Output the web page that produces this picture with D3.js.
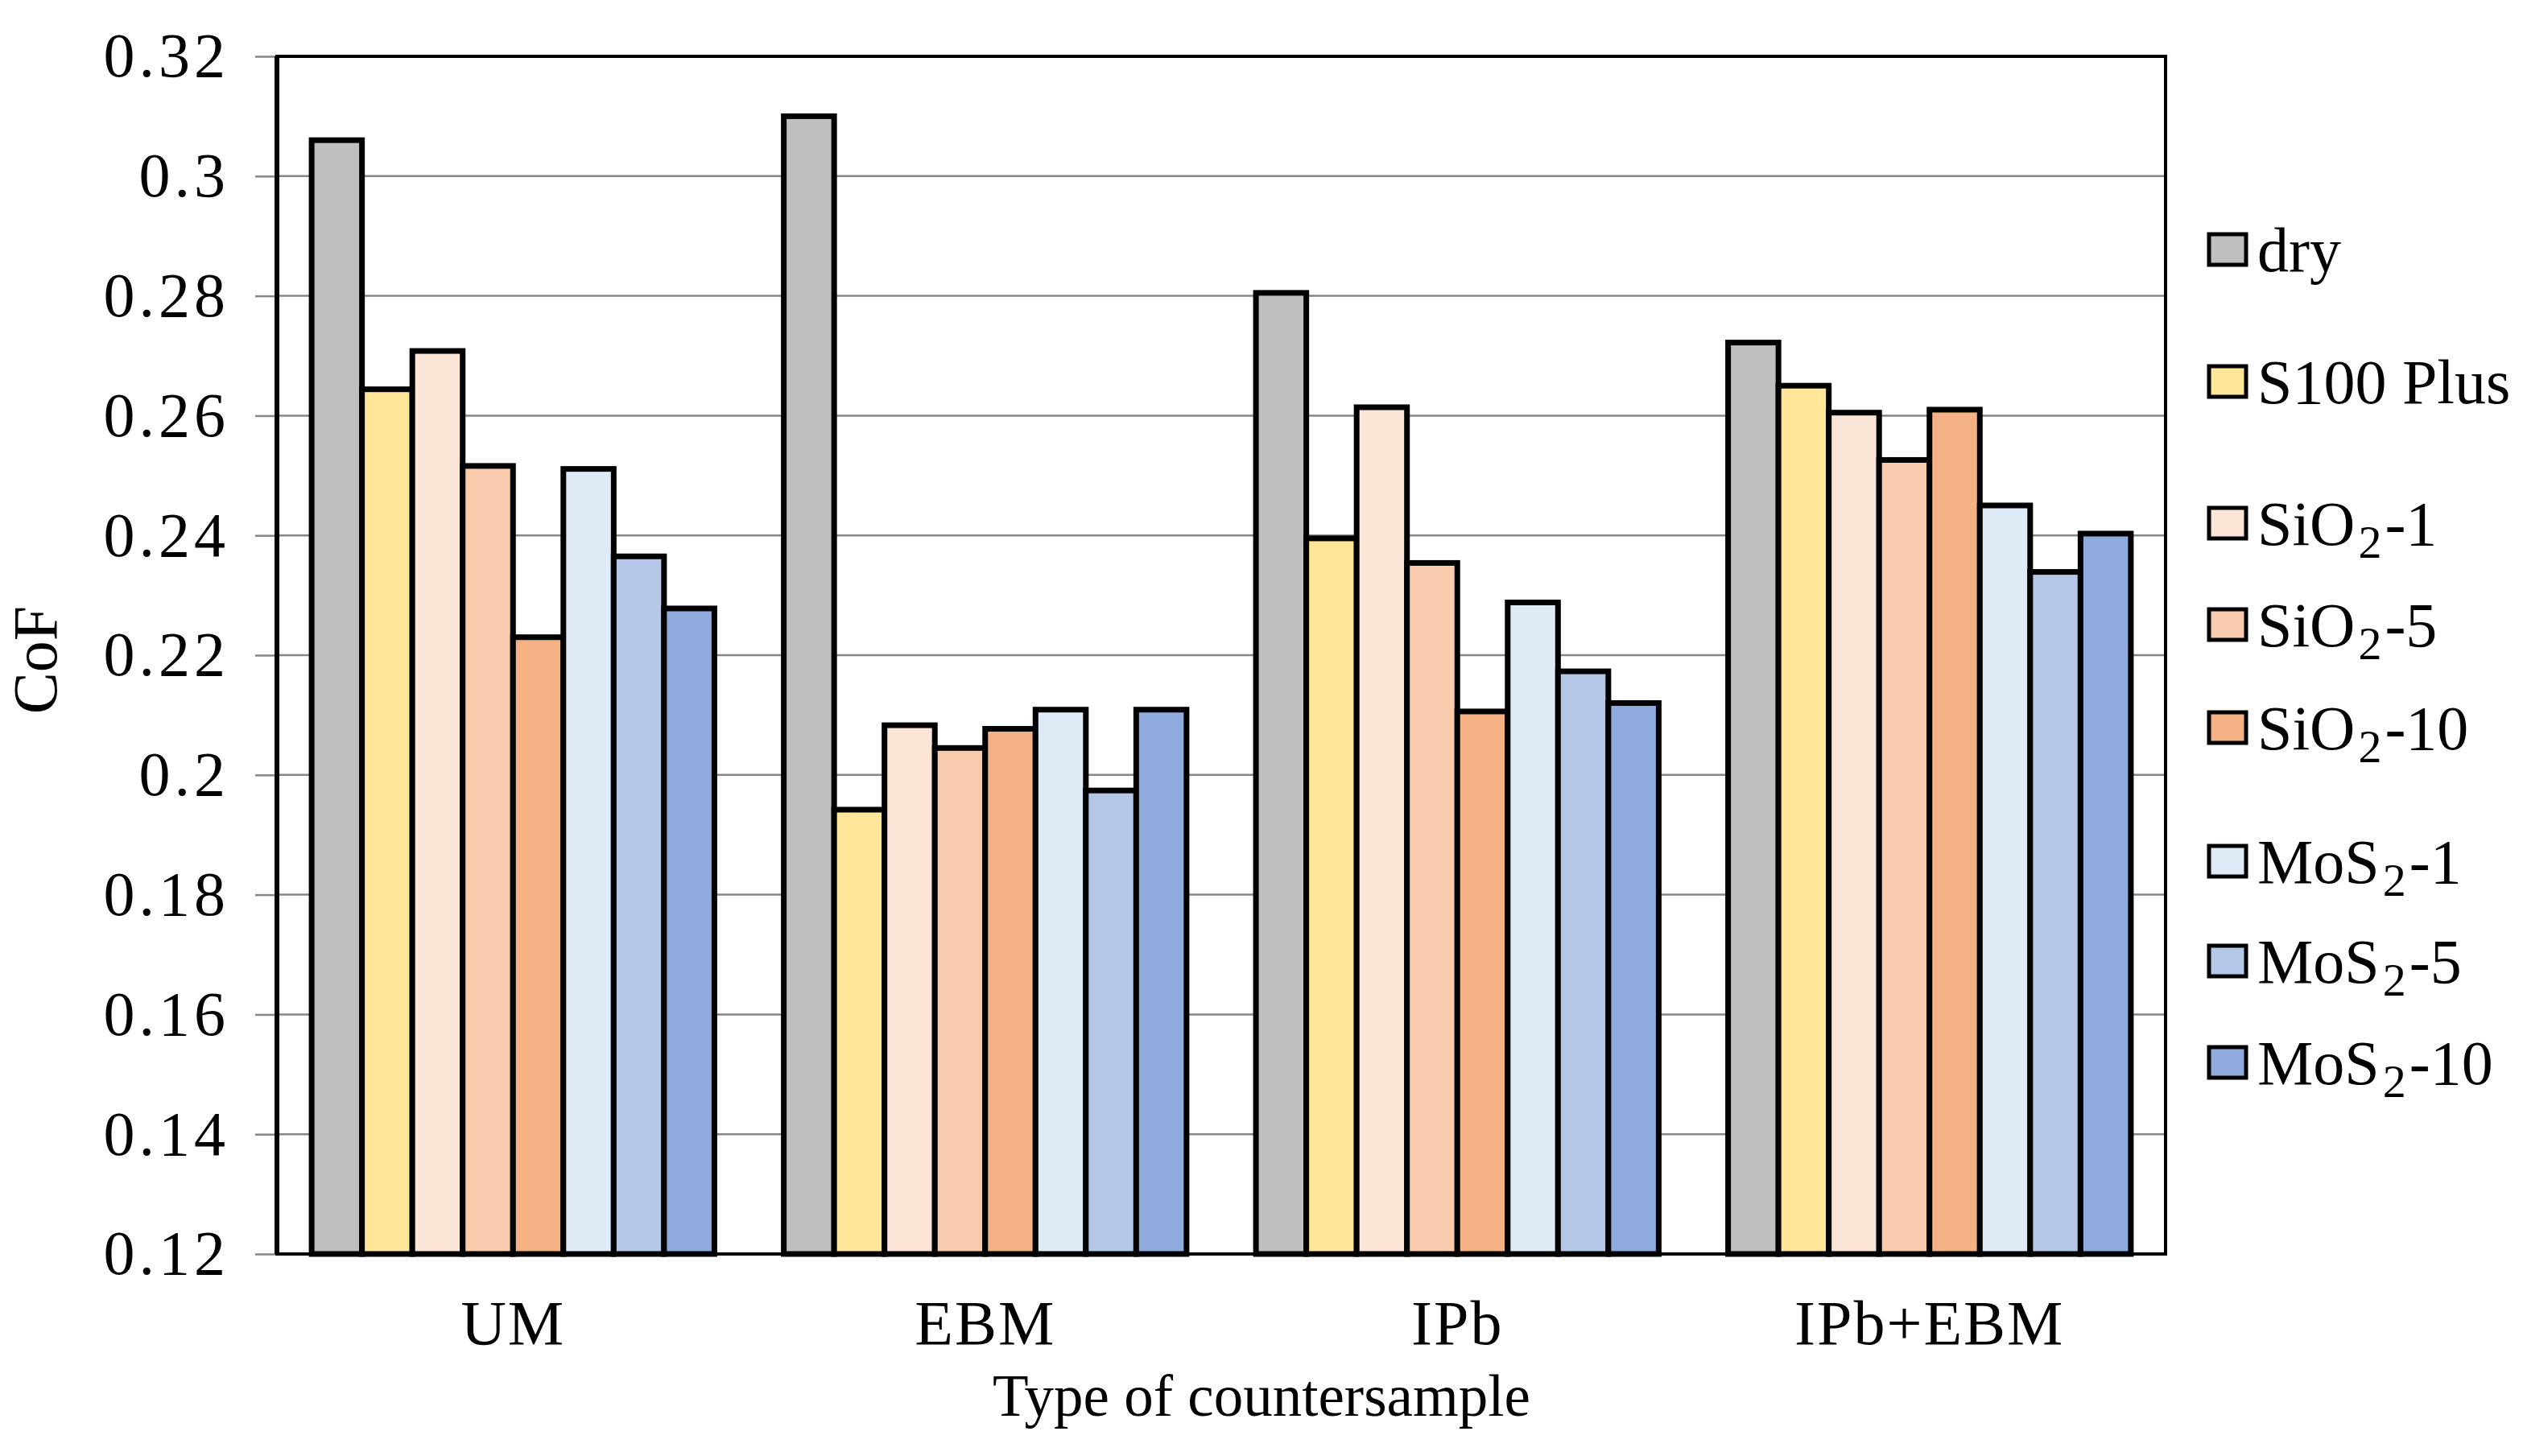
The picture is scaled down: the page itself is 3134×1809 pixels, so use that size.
<!DOCTYPE html>
<html>
<head>
<meta charset="utf-8">
<script src="https://cdn.jsdelivr.net/npm/d3@7"></script>
<style>
  body { margin: 0; background: #fff; }
  text { font-family: "Liberation Serif", "DejaVu Serif", serif; fill: #000; }
</style>
</head>
<body>
<div id="chart"></div>
<script>
  // countersample groups and lubricant series
  const groups = ["UM", "EBM", "IPb", "IPb+EBM"];
  const series = ["dry", "S100 Plus", "SiO2-1", "SiO2-5", "SiO2-10", "MoS2-1", "MoS2-5", "MoS2-10"];
  const colors = ["#BFBFBF", "#FFE699", "#FBE5D6", "#F8CBAD", "#F4B183", "#DEEBF7", "#B4C7E7", "#8FAADC"];

  // CoF per series, one value per group (UM, EBM, IPb, IPb+EBM)
  const dry      = [0.306, 0.310, 0.2805, 0.2722];
  const s100Plus = [0.2644, 0.1942, 0.2395, 0.2650];
  const sio2_1   = [0.2708, 0.2083, 0.2614, 0.2605];
  const sio2_5   = [0.2516, 0.2045, 0.2354, 0.2526];
  const sio2_10  = [0.2230, 0.2077, 0.2106, 0.2610];
  const mos2_1   = [0.2511, 0.2109, 0.2288, 0.2450];
  const mos2_5   = [0.2365, 0.1974, 0.2173, 0.2339];
  const mos2_10  = [0.2278, 0.2109, 0.2120, 0.2403];
  const values = [dry, s100Plus, sio2_1, sio2_5, sio2_10, mos2_1, mos2_5, mos2_10];

  const yTicks = [0.12, 0.14, 0.16, 0.18, 0.2, 0.22, 0.24, 0.26, 0.28, 0.3, 0.32];
  const yTickLabels = ["0.12", "0.14", "0.16", "0.18", "0.2", "0.22", "0.24", "0.26", "0.28", "0.3", "0.32"];

  const W = 3134, H = 1809,
    margin = {top: 70, right: 444, bottom: 251, left: 344},
    width = W - margin.left - margin.right,
    height = H - margin.top - margin.bottom,
    fontSize = 78,
    legendOffsets = [310, 474, 650, 776, 904, 1070, 1194, 1320]; //legend rows are not evenly spaced

  const svg = d3.select("#chart").append("svg")
      .attr("width", W)
      .attr("height", H);

  const g = svg.append("g")
      .attr("transform", "translate(" + margin.left + "," + margin.top + ")");

  const x0 = d3.scaleBand().domain(groups).range([0, width]).paddingInner(0.147).paddingOuter(0.0735);
  const x1 = d3.scaleBand().domain(series).range([0, x0.bandwidth()]);
  const y = d3.scaleLinear().domain([0.12, 0.32]).range([height, 0]);

  //gridlines
  g.append("g")
    .selectAll("line")
    .data(yTicks.slice(1))
    .enter().append("line")
      .attr("x1", 0)
      .attr("x2", width)
      .attr("y1", d => y(d))
      .attr("y2", d => y(d))
      .attr("stroke", "#868686")
      .attr("stroke-width", 2.5);

  //y axis with ticks outside
  const yAxis = g.append("g")
      .call(d3.axisLeft(y).tickValues(yTicks).tickSize(27).tickPadding(32)
        .tickFormat((d, i) => yTickLabels[i]));
  yAxis.select(".domain").remove();
  yAxis.selectAll(".tick line").attr("stroke", "#868686").attr("stroke-width", 2.5);
  yAxis.selectAll(".tick text")
      .style("font-size", fontSize + "px")
      .style("font-family", "Liberation Serif")
      .style("letter-spacing", "5px")
      .attr("fill", "#000");

  //bars
  const bars = [];
  groups.forEach((grp, gi) => {
    series.forEach((s, si) => bars.push({group: grp, series: s, color: colors[si], value: values[si][gi]}));
  });

  g.append("g")
    .selectAll("rect")
    .data(bars)
    .enter().append("rect")
      .attr("x", d => x0(d.group) + x1(d.series))
      .attr("y", d => y(d.value))
      .attr("width", x1.bandwidth())
      .attr("height", d => y(0.12) - y(d.value))
      .attr("fill", d => d.color)
      .attr("stroke", "#000")
      .attr("stroke-width", 7);

  //plot frame
  g.append("rect")
      .attr("x", 0).attr("y", 0)
      .attr("width", width).attr("height", height)
      .attr("fill", "none")
      .attr("stroke", "#000")
      .attr("stroke-width", 4);
  g.append("line")
      .attr("x1", 0).attr("x2", 0).attr("y1", 0).attr("y2", height)
      .attr("stroke", "#000").attr("stroke-width", 6);

  //category labels
  g.selectAll(".cat")
    .data(groups)
    .enter().append("text")
      .attr("class", "cat")
      .attr("x", d => x0(d) + x0.bandwidth() / 2)
      .attr("y", height + 112)
      .attr("text-anchor", "middle")
      .style("font-size", fontSize + "px")
      .style("letter-spacing", "2px")
      .text(d => d);

  //axis titles
  svg.append("text")
      .attr("x", margin.left + width / 2 + 50)
      .attr("y", H - 50)
      .attr("text-anchor", "middle")
      .style("font-size", "73px")
      .text("Type of countersample");

  svg.append("text")
      .attr("transform", "translate(70,820) rotate(-90)")
      .attr("text-anchor", "middle")
      .style("font-size", fontSize + "px")
      .text("CoF");

  //legend
  const legend = svg.append("g")
      .attr("transform", "translate(2744,0)");

  const row = legend.selectAll(".legend")
    .data(series)
    .enter().append("g")
      .attr("class", "legend")
      .attr("transform", (d, i) => "translate(0," + legendOffsets[i] + ")");

  row.append("rect")
      .attr("x", 0)
      .attr("y", -19)
      .attr("width", 46)
      .attr("height", 38)
      .attr("fill", (d, i) => colors[i])
      .attr("stroke", "#000")
      .attr("stroke-width", 5);

  //render "2" in SiO2 / MoS2 as subscript
  row.each(function(d) {
    const t = d3.select(this).append("text")
        .attr("x", 60)
        .attr("y", 27)
        .style("font-size", fontSize + "px");
    const m = d.match(/^(SiO|MoS)2(.*)$/);
    if (m) {
      t.append("tspan").text(m[1]);
      t.append("tspan").attr("dx", 4).attr("dy", 16).style("font-size", "58px").text("2");
      t.append("tspan").attr("dx", 4).attr("dy", -16).text(m[2]);
    } else {
      t.text(d);
    }
  });
</script>
</body>
</html>
